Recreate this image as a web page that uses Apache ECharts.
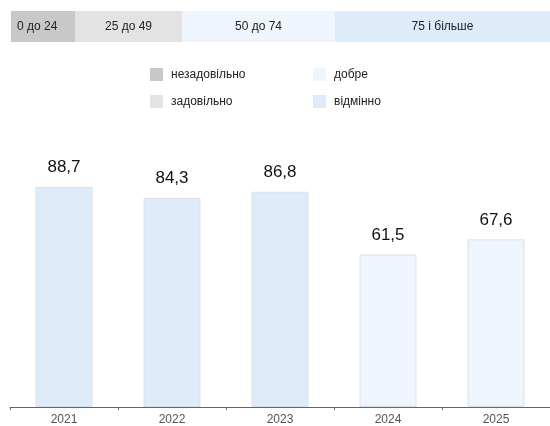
<!DOCTYPE html>
<html>
<head>
<meta charset="utf-8">
<script src="https://cdn.jsdelivr.net/npm/echarts@6/dist/echarts.min.js"></script>
<style>
html,body{margin:0;padding:0;background:#fff;}
#chart{width:550px;height:426px;}
</style>
</head>
<body>
<div id="chart"></div>
<script>
// роки та значення
var years = ["2021", "2022", "2023", "2024", "2025"];
var scores = [88.7, 84.3, 86.8, 61.5, 67.6];
// шкала оцінок
var gradeNames = ["незадовільно", "задовільно", "добре", "відмінно"];
var gradeColors = ["#c8c8c8", "#e3e3e3", "#eef5fd", "#deebf8"];
var bandLabels = ["0 до 24", "25 до 49", "50 до 74", "75 і більше"];
var gradeMin = [0, 25, 50, 75];

var FONT = "Helvetica, Arial, 'Liberation Sans', sans-serif";

function gradeOf(v){
    var g = 0;
    for (var i = 0; i < gradeMin.length; i++) {
        if (v >= gradeMin[i]) g = i;
    }
    return g;
}

// смуга зверху
var bandX = [11, 75, 182, 335, 550];
var graphics = [];
for (var i = 0; i < bandLabels.length; i++) {
    graphics.push({
        type: "rect",
        shape: {x: bandX[i], y: 11, width: bandX[i + 1] - bandX[i], height: 31},
        style: {fill: gradeColors[i]},
        silent: true
    });
    graphics.push({
        type: "text",
        x: i == 0 ? bandX[i] + 6 : (bandX[i] + bandX[i + 1]) / 2,
        y: 26.5,
        style: {
            text: bandLabels[i],
            fill: "#222",
            font: "12px " + FONT,
            align: i == 0 ? "left" : "center",
            verticalAlign: "middle"
        },
        silent: true
    });
}

var series = gradeNames.map(function(name, g){
    return {
        name: name,
        type: "bar",
        stack: "all",
        barWidth: 57,
        itemStyle: {color: gradeColors[g], borderColor: "#d9e1ea", borderWidth: 1},
        label: {
            show: true,
            position: "top",
            distance: 11,
            color: "#111",
            fontSize: 17,
            fontFamily: FONT,
            formatter: function(p){ return String(p.value).replace(".", ","); }
        },
        data: scores.map(function(v){ return gradeOf(v) == g ? v : "-"; })
    };
});

var legendBase = {
    orient: "vertical",
    itemWidth: 13,
    itemHeight: 13,
    itemGap: 14,
    icon: "rect",
    itemStyle: {borderWidth: 0},
    textStyle: {fontSize: 12, color: "#222", fontFamily: FONT, padding: [0, 0, 0, 3]}
};

var chart = echarts.init(document.getElementById("chart"));
chart.setOption({
    animation: false,
    graphic: graphics,
    legend: [
        Object.assign({left: 145, top: 63, data: [gradeNames[0], gradeNames[1]]}, legendBase),
        Object.assign({left: 308, top: 63, data: [gradeNames[2], gradeNames[3]]}, legendBase)
    ],
    grid: {left: 10, right: -5, top: 159, bottom: 18, containLabel: false},
    xAxis: {
        type: "category",
        data: years,
        axisLine: {lineStyle: {color: "#666", width: 1}},
        axisTick: {show: true, length: 3, lineStyle: {color: "#666"}},
        axisLabel: {color: "#555", fontSize: 12, fontFamily: FONT, margin: 7}
    },
    yAxis: {
        type: "value",
        min: 0,
        max: 100,
        show: false,
        splitLine: {show: false}
    },
    series: series
});
</script>
</body>
</html>
